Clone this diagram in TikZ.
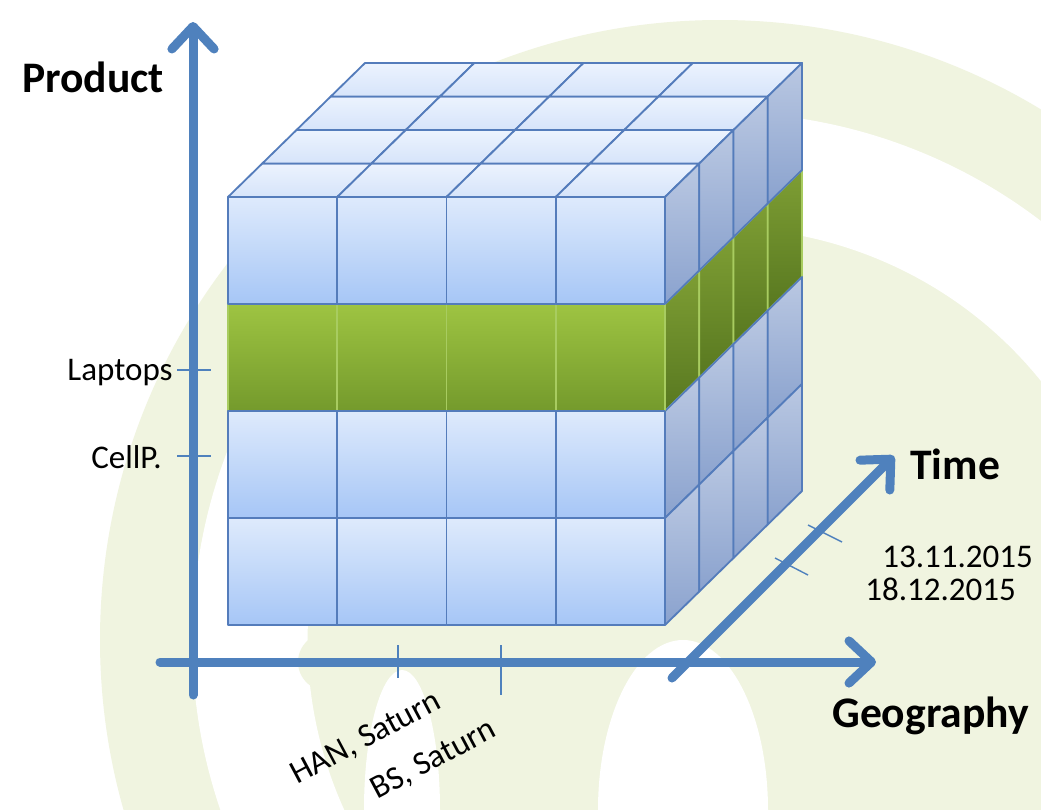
\documentclass[tikz,border=0pt]{standalone}
\usepackage{fontspec}
\setmainfont{Carlito}
\usetikzlibrary{arrows.meta}
\usetikzlibrary{positioning}
\definecolor{axisblue}{RGB}{79,129,189}
\definecolor{edgeblue}{RGB}{84,124,187}
\definecolor{frontA}{RGB}{222,234,252}
\definecolor{frontB}{RGB}{166,198,246}
\definecolor{topA}{RGB}{236,243,254}
\definecolor{topB}{RGB}{214,228,250}
\definecolor{sideA}{RGB}{186,200,226}
\definecolor{sideB}{RGB}{138,162,206}
\definecolor{greenA}{RGB}{158,196,66}
\definecolor{greenB}{RGB}{116,154,44}
\definecolor{gsideA}{RGB}{126,158,52}
\definecolor{gsideB}{RGB}{88,120,32}
\definecolor{gedge}{RGB}{168,204,96}
\definecolor{wmgreen}{RGB}{240,244,224}

\begin{document}
\begin{tikzpicture}[x=0.025cm,y=-0.025cm,
  tcell/.style={draw=edgeblue,line width=1.3pt,line join=round,top color=topA,bottom color=topB},
  bcell/.style={draw=edgeblue,line width=1.3pt,line join=round,top color=frontA,bottom color=frontB},
  gcell/.style={draw=gedge,line width=1.3pt,line join=round,top color=greenA,bottom color=greenB},
  bside/.style={draw=edgeblue,line width=1.3pt,line join=round,top color=sideA,bottom color=sideB},
  gside/.style={draw=gedge,line width=1.3pt,line join=round,top color=gsideA,bottom color=gsideB},
  axis/.style={draw=axisblue,line width=6.4pt,line cap=round,-{Straight Barb[length=16pt,width=30pt,round]}},
  tick/.style={draw=axisblue,line width=1pt},
  big/.style={font=\fontsize{31}{36}\selectfont\bfseries,inner sep=0pt},
  small/.style={font=\fontsize{23.5}{28}\selectfont,inner sep=0pt}]
\useasboundingbox (0,0) rectangle (1041,810);
\fill[white] (0,0) rectangle (1041,810);
\begin{scope}
\clip (0,0) rectangle (1041,810);
\fill[wmgreen] (720,640) circle[radius=620];
\draw[white,line width=82pt] (720,640) ++(-30:470) arc[start angle=-30,end angle=-250,radius=470];
\fill[white] (683,810) ellipse[x radius=85,y radius=170];
\fill[white] (402,810) ellipse[x radius=38,y radius=140];
\fill[wmgreen] (330,662) ellipse[x radius=32,y radius=30];
\end{scope}

\foreach \i in {0,...,3}
  \foreach \k in {0,...,3}
    \path[tcell] (228+\i*109.25+\k*34.25,197-\k*33.5) -- ++(109.25,0) -- ++(34.25,-33.5) -- ++(-109.25,0) -- cycle;
\foreach \j/\st in {1/gside,0/bside,2/bside,3/bside}
  \foreach \k in {0,...,3}
    \path[\st] (665+\k*34.25,197+\j*107-\k*33.5) -- ++(34.25,-33.5) -- ++(0,107) -- ++(-34.25,33.5) -- cycle;
\foreach \j/\st in {1/gcell,0/bcell,2/bcell,3/bcell}
  \foreach \i in {0,...,3}
    \path[\st] (228+\i*109.25,197+\j*107) rectangle ++(109.25,107);

\coordinate (pfoot) at (193,695);
\coordinate (ptip) at (193,22);
\coordinate (gfoot) at (160,662);
\coordinate (gtip) at (876,662);
\coordinate (tfoot) at (672,678);
\coordinate (ttip) at (894,456);
\draw[axis] (pfoot) -- (ptip);
\draw[axis] (gfoot) -- (gtip);
\draw[axis] (tfoot) -- (ttip);

\coordinate (lapA) at (177,370); \coordinate (lapB) at (211,370);
\coordinate (cellA) at (177,456); \coordinate (cellB) at (211,456);
\coordinate (hanA) at (398,645); \coordinate (hanB) at (398,678);
\coordinate (bsA) at (501,645); \coordinate (bsB) at (501,695);
\coordinate (novA) at (808,525); \coordinate (novB) at (842,542);
\coordinate (decA) at (775,558); \coordinate (decB) at (808,575);
\foreach \a/\b in {lapA/lapB,cellA/cellB,hanA/hanB,bsA/bsB,novA/novB,decA/decB}
  \draw[tick] (\a) -- (\b);

\node[big,anchor=base west] (product) at (22,92) {Product};
\node[big,anchor=base west] (time) at (910,479) {Time};
\node[big,anchor=base west] (geography) at (832,727) {Geography};
\node[small,anchor=base east] (laptops) at (173,380) {Laptops};
\node[small,anchor=base east] (cellp) at (162,468) {CellP.};
\node[small,anchor=base west] (nov) at (882,567) {13.11.2015};
\node[small,anchor=base west] (dec) at (865,600) {18.12.2015};
\node[small,anchor=base west,rotate=28] (han) at (297,785) {HAN, Saturn};
\node[small,anchor=base west,rotate=28] (bs) at (377,800) {BS, Saturn};
\end{tikzpicture}
\end{document}
